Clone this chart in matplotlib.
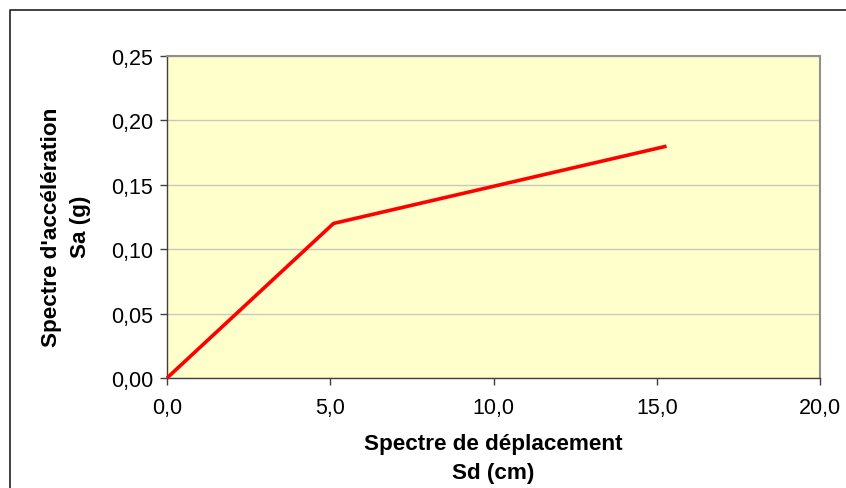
import matplotlib.pyplot as plt
from matplotlib.lines import Line2D
from matplotlib.ticker import FuncFormatter

# Spectre de capacité (Sd en cm, Sa en g)
sd = [0.0, 5.1, 15.3]
sa = [0.0, 0.12, 0.18]

x_ticks = [0, 5, 10, 15, 20]
y_ticks = [0.0, 0.05, 0.10, 0.15, 0.20, 0.25]

plt.rcParams['font.family'] = ['Liberation Sans', 'DejaVu Sans']

W, H = 846, 489
fig = plt.figure(figsize=(W / 100, H / 100), dpi=100)
ax = fig.add_axes([167 / W, 1 - 379 / H, (820 - 167) / W, (379 - 57) / H])

ax.set_facecolor('#FFFFCC')
ax.plot(sd, sa, color='#FF0000', linewidth=2.6, solid_capstyle='butt', zorder=3, clip_on=False)

ax.set_xlim(0, 20)
ax.set_ylim(0, 0.25)
ax.set_xticks(x_ticks)
ax.set_yticks(y_ticks)
ax.xaxis.set_major_formatter(FuncFormatter(lambda v, p: f'{v:.1f}'.replace('.', ',')))
ax.yaxis.set_major_formatter(FuncFormatter(lambda v, p: f'{v:.2f}'.replace('.', ',')))

ax.grid(True, axis='y', color='#C8C8C0', linewidth=1.0)
ax.set_axisbelow(True)

for side in ['left', 'bottom']:
    ax.spines[side].set_color('#404040')
    ax.spines[side].set_linewidth(1.0)
for side in ['top', 'right']:
    ax.spines[side].set_color('#909090')
    ax.spines[side].set_linewidth(1.5)

ax.tick_params(direction='out', length=5, width=1, color='#404040', labelsize=15.5, pad=5)
ax.tick_params(axis='x', pad=9)

ax.set_xlabel('Spectre de déplacement\nSd (cm)', fontsize=16.2, fontweight='bold', linespacing=1.45)
ax.set_ylabel("Spectre d'accélération\nSa (g)", fontsize=16.2, fontweight='bold', linespacing=1.45)
ax.xaxis.label.set_va('center')
ax.yaxis.label.set_va('center')
ax.xaxis.set_label_coords(0.5, (379 - 459) / 322)
ax.yaxis.set_label_coords((66 - 167) / 653, (379 - 227) / 322)

# cadre du graphique (haut et gauche)
x0 = 10 / W
y0 = 1 - 11 / H
fig.add_artist(Line2D([x0, x0, 1], [0, y0, y0], transform=fig.transFigure, color='#202020', linewidth=1.2))

fig.savefig('out.png', dpi=100)
